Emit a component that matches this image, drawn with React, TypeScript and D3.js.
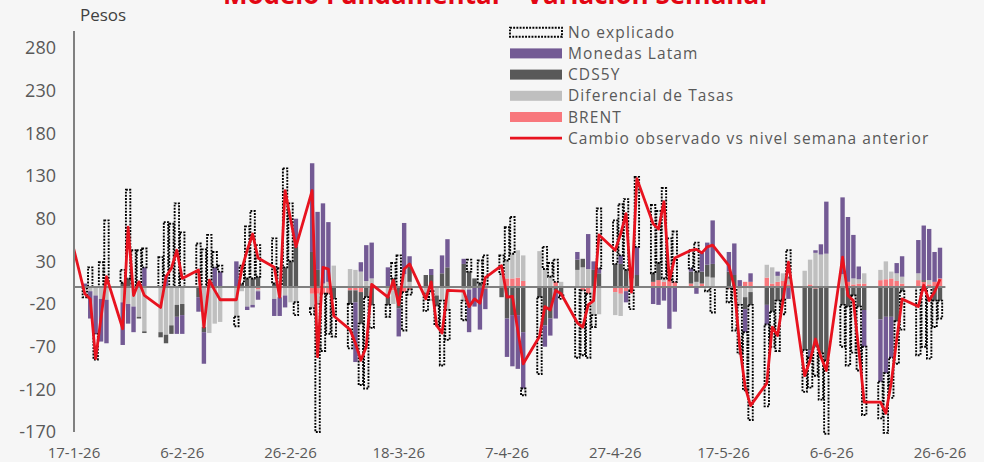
import * as d3 from 'd3';

// business days shown on the chart (first one sits just before the axis start and is clipped)
const dates = [
  '2026-01-16',
  '2026-01-19', '2026-01-20', '2026-01-21', '2026-01-22', '2026-01-23',
  '2026-01-26', '2026-01-27', '2026-01-28', '2026-01-29', '2026-01-30',
  '2026-02-02', '2026-02-03', '2026-02-04', '2026-02-05', '2026-02-06',
  '2026-02-09', '2026-02-10', '2026-02-11', '2026-02-12', '2026-02-13',
  '2026-02-16', '2026-02-17', '2026-02-18', '2026-02-19', '2026-02-20',
  '2026-02-23', '2026-02-24', '2026-02-25', '2026-02-26', '2026-02-27',
  '2026-03-02', '2026-03-03', '2026-03-04', '2026-03-05', '2026-03-06',
  '2026-03-09', '2026-03-10', '2026-03-11', '2026-03-12', '2026-03-13',
  '2026-03-16', '2026-03-17', '2026-03-18', '2026-03-19', '2026-03-20',
  '2026-03-23', '2026-03-24', '2026-03-25', '2026-03-26', '2026-03-27',
  '2026-03-30', '2026-03-31', '2026-04-01', '2026-04-02', '2026-04-03',
  '2026-04-06', '2026-04-07', '2026-04-08', '2026-04-09', '2026-04-10',
  '2026-04-13', '2026-04-14', '2026-04-15', '2026-04-16', '2026-04-17',
  '2026-04-20', '2026-04-21', '2026-04-22', '2026-04-23', '2026-04-24',
  '2026-04-27', '2026-04-28', '2026-04-29', '2026-04-30', '2026-05-01',
  '2026-05-04', '2026-05-05', '2026-05-06', '2026-05-07', '2026-05-08',
  '2026-05-11', '2026-05-12', '2026-05-13', '2026-05-14', '2026-05-15',
  '2026-05-18', '2026-05-19', '2026-05-20', '2026-05-21', '2026-05-22',
  '2026-05-25', '2026-05-26', '2026-05-27', '2026-05-28', '2026-05-29',
  '2026-06-01', '2026-06-02', '2026-06-03', '2026-06-04', '2026-06-05',
  '2026-06-08', '2026-06-09', '2026-06-10', '2026-06-11', '2026-06-12',
  '2026-06-15', '2026-06-16', '2026-06-17', '2026-06-18', '2026-06-19',
  '2026-06-22', '2026-06-23', '2026-06-24', '2026-06-25', '2026-06-26',
];

const monedas = [
  0,
  4, -32, -45, -50, -51,
  -50, -23, -30, 0, 23,
  0, 14, 0, -20, -22,
  -17, -37, 0, 23, 18,
  30, 0, -4, -3, -10,
  -20, -22, -14, 0, 33,
  104, 68, 94, 70, 0,
  0, -70, 11, 42, 42,
  23, 0, -33, 60, 12,
  0, 7, 0, 21, 33,
  6, -50, -23, -50, -24,
  0, -45, -60, -63, -66,
  0, -25, -20, -33, 0,
  9, 0, 41, 10, 6,
  0, 10, -13, 0, 33,
  -20, -21, -16, -49, -29,
  4, -8, 22, 26, 51,
  23, 37, 8, -27, 10,
  -23, 0, 5, 0, -14,
  0, -9, 3, 12, 61,
  90, 76, 51, 15, -43,
  -73, -66, -48, 12, 24,
  39, 64, 60, 35, 36,
];

const cds5y = [
  0,
  0, 0, 0, 0, 0,
  5, 10, 0, -2, -2,
  -6, -10, -10, -14, -13,
  -12, -6, 0, 0, 0,
  0, 4, 10, 10, 12,
  4, 0, 23, 30, 47,
  41, 20, 0, 0, -14,
  -16, -14, -37, -12, -21,
  -10, 10, -25, 0, 18,
  14, 14, -12, 16, 23,
  27, 18, 10, 4, 0,
  -12, -37, -33, -33, -53,
  -12, -45, -37, -4, -10,
  12, 10, 0, 20, 16,
  27, 27, 20, 10, 14,
  10, 20, 0, 0, 0,
  14, 12, 14, 14, 16,
  18, 14, 0, -14, -15,
  -21, -29, -16, -15, 0,
  -74, -74, -68, -78, -86,
  -21, -23, -10, -23, -27,
  -38, -35, -35, -40, -5,
  0, 2, 0, -16, -16,
];

const diferencial = [
  0,
  -2, -5, -10, -14, -15,
  -18, -20, -23, -35, -52,
  -53, -56, -45, -21, -20,
  0, -47, -54, -43, -41,
  -35, -5, -23, -21, -2,
  -14, -12, -10, -18, -18,
  -17, -12, 4, 6, 25,
  21, 20, 18, 7, 10,
  -11, -16, 0, 15, 6,
  -8, -5, -10, -16, -27,
  -16, -3, 0, 0, 3,
  15, 21, 29, 32, 30,
  42, 21, 12, 0, 6,
  20, 23, 21, -33, -32,
  -27, -26, 0, 10, 0,
  0, 0, 4, 0, 0,
  0, 6, 0, 12, 11,
  0, 0, -21, -12, -6,
  15, 19, 7, 9, 8,
  19, 29, 40, 38, 39,
  15, 0, 7, 5, 12,
  12, 21, 8, 9, 8,
  8, 0, 5, 0, 0,
];

const brent = [
  0,
  0, 0, 0, 0, 0,
  0, 0, 0, 0, 0,
  0, 0, 0, 0, 0,
  0, 0, 0, 0, 0,
  0, 0, 0, 0, -3,
  0, 0, 0, 0, 0,
  -8, -8, -8, -8, 0,
  -4, -4, -6, 0, 0,
  0, -4, 0, -6, -3,
  0, 0, 0, 0, 0,
  0, 0, 0, 0, -2,
  0, 10, 10, 11, 7,
  0, 0, 0, 6, 0,
  0, -4, -8, 0, 0,
  -6, -8, -5, -4, 0,
  6, 8, 6, 8, 6,
  4, 0, 4, 0, 0,
  -2, 0, 0, 6, 6,
  11, 4, 6, 7, 3,
  0, 3, -2, 0, 0,
  0, 6, 3, 4, 4,
  8, 9, 10, 7, 4,
  8, 6, 3, 6, 10,
];

const noExplicado = [
  69,
  -10, 23, -30, 29, 78,
  15, 104, 43, 43, 22,
  35, 62, 74, 98, 64,
  51, 44, 61, 18, 7,
  -11, 21, 61, 79, 37,
  53, 22, 116, 68, -15,
  -7, -150, -67, -47, -44,
  -52, 0, -72, -107, -27,
  -14, 18, 37, -45, -6,
  -20, -10, -23, -76, -35,
  -23, 14, 0, 27, 34,
  22, 39, 43, 0, -8,
  -90, 26, 16, 26, -4,
  -83, -76, -75, -14, 70,
  51, 60, 83, -22, 82,
  80, 61, 106, 49, 59,
  21, 34, 0, -5, -30,
  -16, -51, -57, -68, -135,
  -96, -41, -59, -17, 32,
  -49, -35, -34, -54, -86,
  -49, -69, -67, -75, -80,
  -43, -70, -47, -50, -45,
  -80, -70, -84, -31, -21,
];

const cambioObservado = [
  69,
  -8, -14, -84, -36, 12,
  -49, 70, -10, 6, -10,
  -24, 12, 22, 43, 10,
  20, -47, 8, -4, -15,
  -15, 21, 43, 62, 34,
  23, -12, 113, 80, 47,
  113, -82, 23, 21, -34,
  -50, -66, -86, -70, 3,
  -12, 8, -21, 21, 27,
  -14, 6, -45, -54, -4,
  -5, -23, -14, -19, 11,
  25, -12, -11, -51, -90,
  -58, -23, -27, -4, -8,
  -42, -47, -21, -16, 61,
  43, 62, 86, -6, 127,
  74, 68, 100, 8, 34,
  43, 44, 40, 47, 49,
  25, 0, -70, -117, -139,
  -113, -47, -57, -16, 29,
  -104, -86, -61, -82, -98,
  35, -10, -16, -74, -135,
  -135, -148, -112, -62, -14,
  -23, 2, -16, -6, 9,
];

const xTickLabels = ['17-1-26', '6-2-26', '26-2-26', '18-3-26', '7-4-26', '27-4-26', '17-5-26', '6-6-26', '26-6-26'];
const yTicks = [280, 230, 180, 130, 80, 30, -20, -70, -120, -170];

const W = 984;
const H = 462;
const plotLeft = 74;
const plotRight = 945.4;
const plotTop = 31;
const plotBottom = 432;
const barW = 4.4;
const FONT = '"Open Sans", "Liberation Sans", sans-serif';

const COLORS = {
  monedas: '#735a94',
  cds: '#595959',
  dif: '#bfbfbf',
  brent: '#f8777c',
  line: '#e8131f',
  axis: '#808080',
  text: '#595959',
};

const parseDate = d3.timeParse('%Y-%m-%d');
const parseTick = d3.timeParse('%d-%m-%y');

const x = d3
  .scaleTime()
  .domain([new Date(2026, 0, 17), new Date(2026, 5, 27)])
  .range([plotLeft, plotRight]);
const y = d3.scaleLinear().domain([-170, 300]).range([plotBottom, plotTop]);

const keys = ['brent', 'dif', 'cds', 'monedas', 'noExpl'];
const rows = dates.map((d, i) => ({
  date: parseDate(d) as Date,
  brent: brent[i],
  dif: diferencial[i],
  cds: cds5y[i],
  monedas: monedas[i],
  noExpl: noExplicado[i],
}));
const stacked = d3.stack<any>().keys(keys).offset(d3.stackOffsetDiverging)(rows);

const fills: Record<string, string> = {
  brent: COLORS.brent,
  dif: COLORS.dif,
  cds: COLORS.cds,
  monedas: COLORS.monedas,
};

const linePath = d3
  .line<number>()
  .x((_, i) => x(rows[i].date))
  .y((v) => y(v))(cambioObservado);

const legend = [
  { label: 'No explicado', kind: 'dotted' },
  { label: 'Monedas Latam', kind: 'bar', color: COLORS.monedas },
  { label: 'CDS5Y', kind: 'bar', color: COLORS.cds },
  { label: 'Diferencial de Tasas', kind: 'bar', color: COLORS.dif },
  { label: 'BRENT', kind: 'bar', color: COLORS.brent },
  { label: 'Cambio observado vs nivel semana anterior', kind: 'line' },
];

const dotted = { fill: 'none', stroke: '#000', strokeWidth: 1.9, strokeDasharray: '1.9 1.3' };

export default function App() {
  return (
    <svg
      width={W}
      height={H}
      viewBox={`0 0 ${W} ${H}`}
      style={{ position: 'absolute', left: 0, top: 0, display: 'block' }}
      fontFamily={FONT}
    >
      <defs>
        <clipPath id="plot-clip">
          <rect x={plotLeft} y={0} width={plotRight - plotLeft + 2} height={H - 20} />
        </clipPath>
      </defs>
      <rect width={W} height={H} fill="#f6f6f6" />

      {/* title, cut off at the top of the picture as in the source */}
      <text x={495} y={4} textAnchor="middle" fontSize={26} fontWeight="bold" fill="#e30613">
        Modelo Fundamental – Variación Semanal
      </text>

      <text x={80} y={21} fontSize={17} fill="#404040">
        Pesos
      </text>

      {/* y axis labels */}
      {yTicks.map((t) => (
        <text key={t} x={56} y={y(t)} dy="0.35em" textAnchor="end" fontSize={18} fill={COLORS.text}>
          {t}
        </text>
      ))}

      {/* x axis labels */}
      {xTickLabels.map((t) => (
        <text key={t} x={x(parseTick(t) as Date)} y={458} textAnchor="middle" fontSize={15} fill={COLORS.text}>
          {t}
        </text>
      ))}

      <g clipPath="url(#plot-clip)">
        {stacked
          .filter((s) => s.key !== 'noExpl')
          .map((s) => (
            <g key={s.key} fill={fills[s.key]}>
              {s.map((d, i) =>
                d[1] - d[0] === 0 ? null : (
                  <rect
                    key={i}
                    x={x(rows[i].date) - barW / 2}
                    y={y(Math.max(d[0], d[1]))}
                    width={barW}
                    height={Math.abs(y(d[0]) - y(d[1]))}
                  />
                )
              )}
            </g>
          ))}
        {stacked
          .filter((s) => s.key === 'noExpl')
          .map((s) => (
            <g key={s.key} {...dotted}>
              {s.map((d, i) =>
                d[1] - d[0] === 0 ? null : (
                  <rect
                    key={i}
                    x={x(rows[i].date) - barW / 2}
                    y={y(Math.max(d[0], d[1]))}
                    width={barW}
                    height={Math.abs(y(d[0]) - y(d[1]))}
                  />
                )
              )}
            </g>
          ))}
        <line x1={plotLeft} x2={plotRight} y1={y(0)} y2={y(0)} stroke={COLORS.axis} strokeWidth={2} />
        <path d={linePath || ''} fill="none" stroke={COLORS.line} strokeWidth={2.8} strokeLinejoin="round" />
      </g>

      <line x1={plotLeft} x2={plotLeft} y1={plotTop} y2={plotBottom} stroke={COLORS.axis} strokeWidth={2} />

      {/* legend */}
      {legend.map((item, i) => {
        const cy = 32.2 + i * 21.2;
        return (
          <g key={item.label}>
            {item.kind === 'bar' && <rect x={510} y={cy - 5} width={52} height={10} fill={item.color} />}
            {item.kind === 'dotted' && <rect x={510} y={cy - 4.5} width={52} height={9} {...dotted} />}
            {item.kind === 'line' && (
              <line x1={510} x2={562} y1={cy} y2={cy} stroke={COLORS.line} strokeWidth={2.8} />
            )}
            <text x={568} y={cy} dy="0.36em" fontSize={15.5} letterSpacing={1.1} fill={COLORS.text}>
              {item.label}
            </text>
          </g>
        );
      })}
    </svg>
  );
}
